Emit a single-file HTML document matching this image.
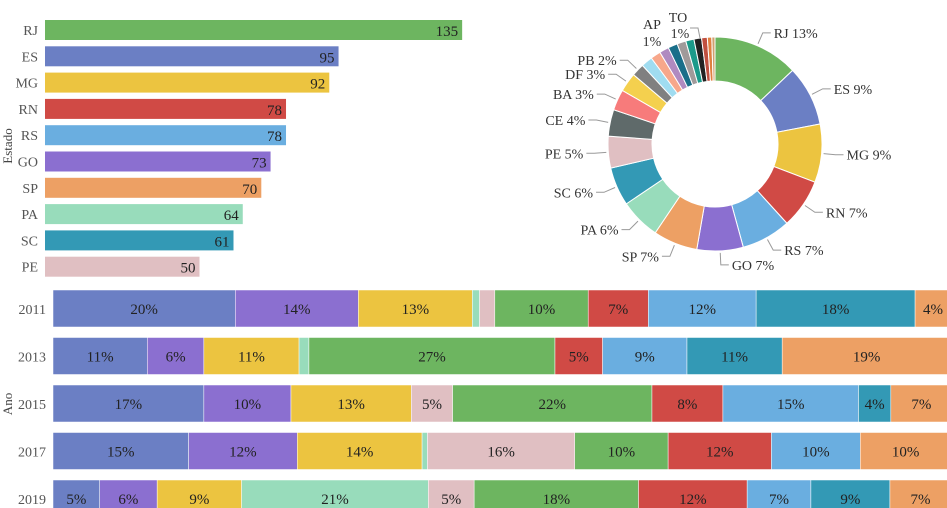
<!DOCTYPE html>
<html><head><meta charset="utf-8">
<style>
html,body{margin:0;padding:0;background:#fff;width:947px;height:508px;overflow:hidden}
svg{display:block;font-family:"Liberation Serif","Times New Roman",serif}
text{font-family:"Liberation Serif","Times New Roman",serif}
</style></head>
<body>
<svg id="c" width="947" height="508"></svg>
<script>
// ---- horizontal bar data
const barStates = ["RJ","ES","MG","RN","RS","GO","SP","PA","SC","PE"];
const barValues = [135,95,92,78,78,73,70,64,61,50];
// ---- donut data
const pieStates = ["RJ","ES","MG","RN","RS","GO","SP","PA","SC","PE","CE","BA","DF","PB","AL","MA","PI","AM","SE","TO","AP","RO","AC","RR"];
const pieValues = [135,95,92,78,78,73,70,64,61,50,42,33,30,20,18,16,15,15,14,13,12,9,7,5];
// ---- stacked bar data
const years = ["2011","2013","2015","2017","2019"];
const stackStates = ["ES","GO","MG","PA","PE","RJ","RN","RS","SC","SP"];
const share2011 = [20.3,13.7,12.7,0.8,1.7,10.4,6.7,12.0,17.7,4.0];
const share2013 = [10.5,6.3,10.6,1.1,0,27.4,5.3,9.4,10.6,18.8];
const share2015 = [16.8,9.7,13.4,0,4.6,22.2,7.9,15.1,3.6,6.8];
const share2017 = [15.1,12.1,13.9,0.6,16.4,10.4,11.5,9.9,0,10.1];
const share2019 = [5.2,6.4,9.4,20.8,5.1,18.3,12.1,7.1,8.8,6.8];
const shares = [share2011,share2013,share2015,share2017,share2019];

const colors = {RJ:"#6db560",ES:"#6b7fc4",MG:"#ecc440",RN:"#d04a45",RS:"#6aaee0",GO:"#8b6fd0",SP:"#eda064",PA:"#98dcbb",SC:"#3399b5",PE:"#e0bfc2",CE:"#5f6a6a",BA:"#f77b7b",DF:"#f4d04e",PB:"#808080",AL:"#a0dcf0",MA:"#f7a78b",PI:"#b08ac0",AM:"#1a6f8a",SE:"#a09a9a",TO:"#1b9a8a",AP:"#222222",RO:"#c05040",AC:"#e08040",RR:"#d0a070"};

const svg = document.getElementById('c');
const NS = "http://www.w3.org/2000/svg";
function mk(tag, attrs, parent){const e=document.createElementNS(NS,tag);for(const k in attrs)e.setAttribute(k,attrs[k]);(parent||svg).appendChild(e);return e;}

// ===== horizontal bar chart
const hx = v => 45 + v*3.09;
const hy = i => 20 + i*26.3;
const g1 = mk('g',{});


const yt = mk('text',{x:0,y:0,transform:'translate(12,146) rotate(-90)','text-anchor':'middle','font-size':13,fill:'#444'},g1);
yt.textContent='Estado';


barStates.forEach((s,i)=>{
  const r = mk('rect',{x:hx(0),y:hy(i),width:hx(barValues[i])-hx(0),height:20,fill:colors[s]},g1);
  
  
  const l = mk('text',{x:38,y:hy(i)+15,'text-anchor':'end','font-size':14,fill:'#555'},g1);
  l.textContent=s;
  
  
  const v = mk('text',{x:hx(barValues[i])-4,y:hy(i)+16,'text-anchor':'end','font-size':15,fill:'#222'},g1);
  v.textContent=barValues[i];
  
  
});

// ===== donut
const cx=715, cy=144, R=107, r0=63;
const total = pieValues.reduce((a,b)=>a+b,0);
const g2 = mk('g',{});


let acc=0;
function pt(a,rad){return [cx+rad*Math.sin(a), cy-rad*Math.cos(a)];}
pieStates.forEach((s,i)=>{
  const a0 = acc/total*2*Math.PI; acc+=pieValues[i]; const a1 = acc/total*2*Math.PI;
  const [x0,y0]=pt(a0,R),[x1,y1]=pt(a1,R),[x2,y2]=pt(a1,r0),[x3,y3]=pt(a0,r0);
  const big = (a1-a0)>Math.PI?1:0;
  const p = mk('path',{d:`M${x0},${y0}A${R},${R} 0 ${big} 1 ${x1},${y1}L${x2},${y2}A${r0},${r0} 0 ${big} 0 ${x3},${y3}Z`,fill:colors[s],stroke:'#fff','stroke-width':1},g2);
  
  
  const pct = Math.round(pieValues[i]/total*100);
  if(i<14){
    const am=(a0+a1)/2;
    const [lx0,ly0]=pt(am,R+2),[lx1,ly1]=pt(am,R+14);
    const right = Math.sin(am)>=0;
    const lx2 = lx1 + (right?8:-8);
    mk('polyline',{points:`${lx0},${ly0} ${lx1},${ly1} ${lx2},${ly1}`,fill:'none',stroke:'#999','stroke-width':1},g2);
    const t = mk('text',{x:lx2+(right?3:-3),y:ly1+5,'text-anchor':right?'start':'end','font-size':14,fill:'#333'},g2);
    t.textContent = s+' '+pct+'%';
    
    
  }
});
// AP / TO labels (two line)
const apPct = Math.round(pieValues[pieStates.indexOf("AP")]/total*100);
const toPct = Math.round(pieValues[pieStates.indexOf("TO")]/total*100);
[[652,29,"AP"],[652,46,apPct+"%"],[678,22,"TO"],[680,38,toPct+"%"]].forEach(d=>{
  const t = mk('text',{x:d[0],y:d[1],'text-anchor':'middle','font-size':14,fill:'#333'},g2);
  t.textContent=d[2];
  
  
});
mk('polyline',{points:'690,28 698,28 700,38',fill:'none',stroke:'#999','stroke-width':1},g2);

// ===== stacked 100% bars
const sx0=53, sw=898;
const sxs = p => sw*p/100;
const sy = i => 290 + i*47.5;
const g3 = mk('g',{});


const at = mk('text',{x:0,y:0,transform:'translate(12,404) rotate(-90)','text-anchor':'middle','font-size':13,fill:'#444'},g3);
at.textContent='Ano';


years.forEach((yr,i)=>{
  const l = mk('text',{x:46,y:sy(i)+24,'text-anchor':'end','font-size':14,fill:'#555'},g3);
  l.textContent=yr;
  
  
  let x=sx0;
  stackStates.forEach((s,j)=>{
    const v=shares[i][j]; if(v<=0) return;
    const w=sxs(v);
    const r = mk('rect',{x:x,y:sy(i),width:w,height:37,fill:colors[s],stroke:'#fff','stroke-width':0.5},g3);
    
    
    if(v>=3.5){
      const t = mk('text',{x:x+w/2,y:sy(i)+24,'text-anchor':'middle','font-size':15,fill:'#222'},g3);
      t.textContent=Math.round(v)+'%';
      
      
    }
    x+=w;
  });
});
</script>
</body></html>
